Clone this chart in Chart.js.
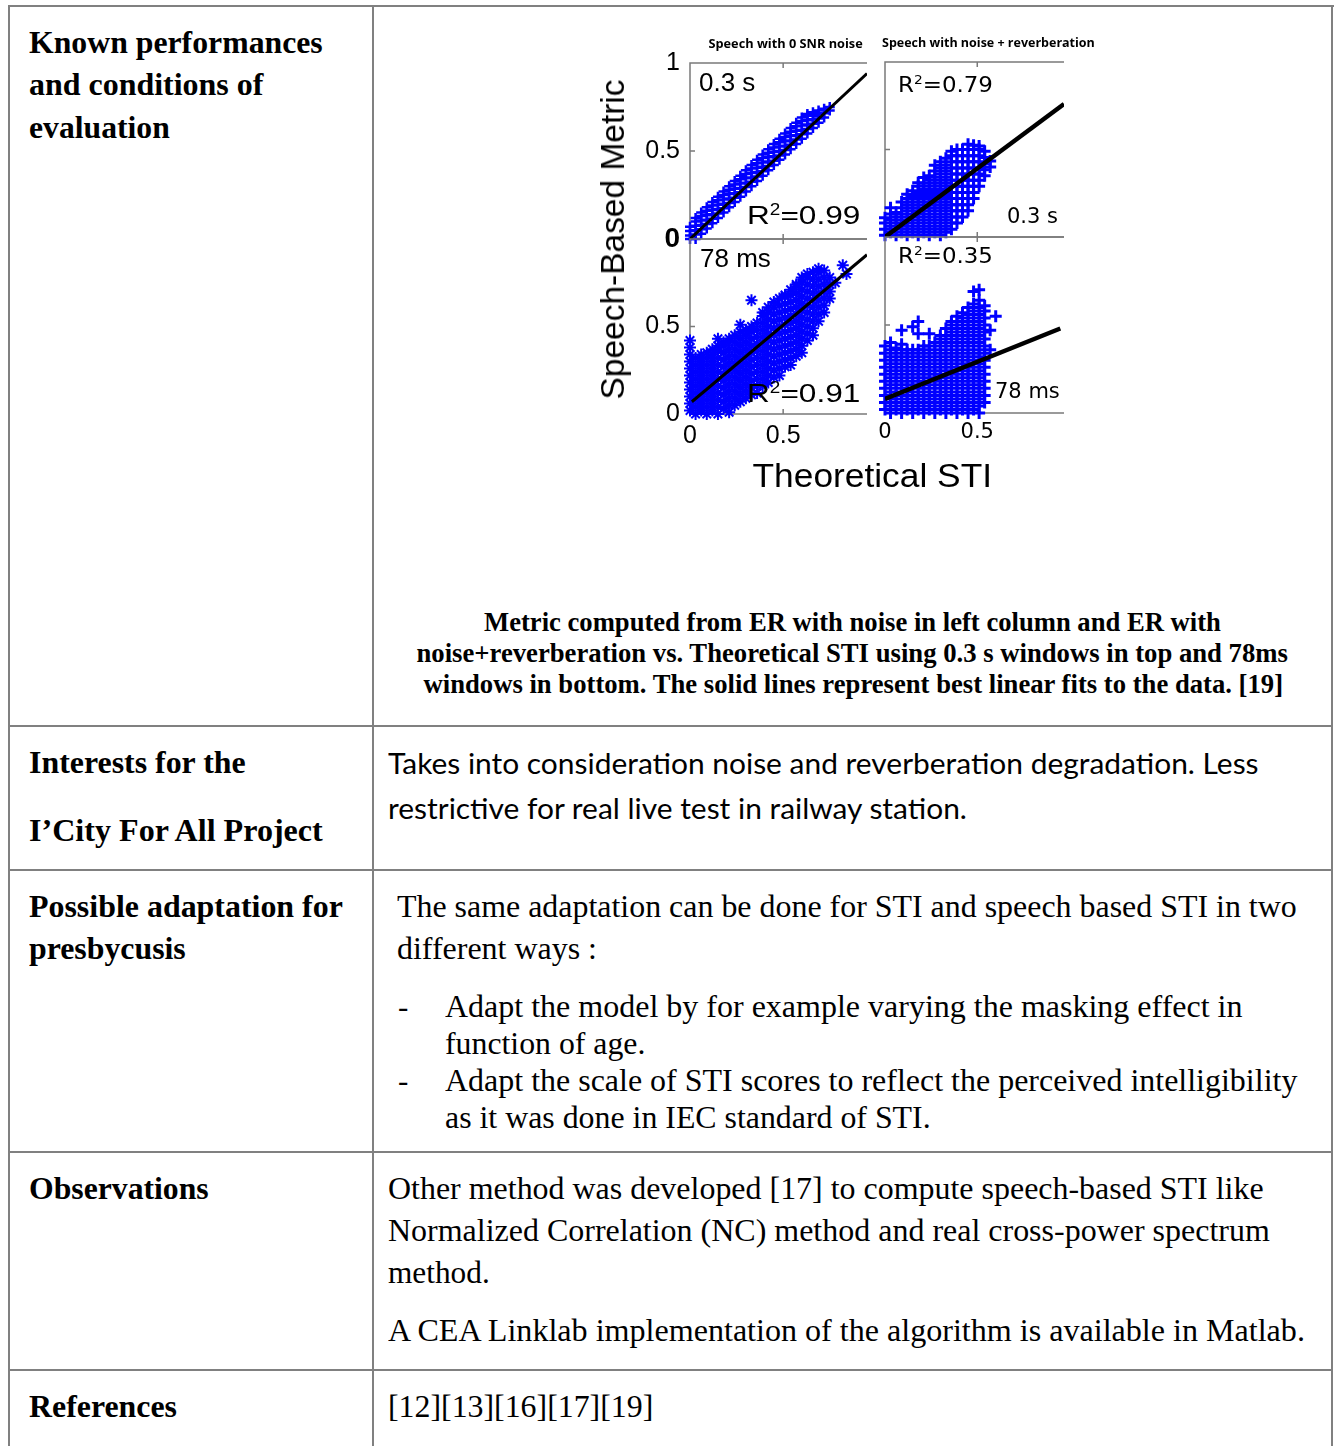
<!DOCTYPE html>
<html>
<head>
<meta charset="utf-8">
<script src="https://cdn.jsdelivr.net/npm/chart.js@4.4.1/dist/chart.umd.min.js"></script>
<style>
  html, body { margin: 0; padding: 0; background: #fff; }
  #page { position: relative; width: 1334px; height: 1446px; overflow: hidden; background: #fff; }
  .rule { position: absolute; background: #808080; }
  .t { position: absolute; white-space: nowrap; color: #000; }
  .t sup { font-size: 0.6em; vertical-align: 0; position: relative; top: -0.6em; line-height: 0; }
  .rot { position: absolute; width: 0; height: 0; transform-origin: 0 0; transform: rotate(-90deg); }
  canvas { position: absolute; }
</style>
</head>
<body>
<div id="page"></div>
<script>
// ---------- scatter clouds: [x, [y values at that x]] ----------
// Left column: ER with noise; right column: ER with noise + reverberation
// Top row: 0.3 s windows; bottom row: 78 ms windows
const tlCols = [
  [0.00,[0.00,0.02,0.045,0.07]],
  [0.03,[0.00,0.025,0.05,0.075,0.10,0.12]],
  [0.06,[0.03,0.055,0.08,0.105,0.13,0.15]],
  [0.09,[0.06,0.085,0.11,0.135,0.16,0.18]],
  [0.12,[0.09,0.115,0.14,0.165,0.19,0.21]],
  [0.15,[0.12,0.145,0.17,0.195,0.22,0.24]],
  [0.18,[0.15,0.175,0.20,0.225,0.25,0.27]],
  [0.21,[0.18,0.205,0.23,0.255,0.28,0.30]],
  [0.24,[0.21,0.235,0.26,0.285,0.31,0.33]],
  [0.27,[0.24,0.265,0.29,0.315,0.34,0.36]],
  [0.30,[0.27,0.295,0.32,0.345,0.37,0.39]],
  [0.33,[0.30,0.325,0.35,0.375,0.40,0.42]],
  [0.36,[0.33,0.355,0.38,0.405,0.43,0.45]],
  [0.39,[0.36,0.385,0.41,0.435,0.46,0.48]],
  [0.42,[0.39,0.415,0.44,0.465,0.49,0.51]],
  [0.45,[0.42,0.445,0.47,0.495,0.52,0.54]],
  [0.48,[0.45,0.475,0.50,0.525,0.55,0.57]],
  [0.51,[0.48,0.505,0.53,0.555,0.58,0.60]],
  [0.54,[0.51,0.535,0.56,0.585,0.61,0.63]],
  [0.57,[0.54,0.565,0.59,0.615,0.64,0.66]],
  [0.60,[0.57,0.595,0.62,0.645,0.67,0.69]],
  [0.63,[0.60,0.625,0.65,0.675,0.70,0.71]],
  [0.66,[0.63,0.655,0.68,0.70,0.72]],
  [0.69,[0.66,0.685,0.71,0.73]],
  [0.72,[0.69,0.715,0.74]],
  [0.75,[0.73,0.75]]
];

const trCols = [
  [0.00,[0.01,0.045,0.08,0.11]],
  [0.03,[0.027,0.062,0.097,0.132,0.167]],
  [0.06,[0.01,0.045,0.08,0.115,0.14]],
  [0.09,[0.027,0.062,0.097,0.132,0.167,0.20]],
  [0.12,[0.01,0.045,0.08,0.115,0.15,0.185,0.22,0.245]],
  [0.15,[0.027,0.062,0.097,0.132,0.167,0.202,0.237,0.265]],
  [0.18,[0.01,0.045,0.08,0.115,0.15,0.185,0.22,0.255,0.29,0.31]],
  [0.21,[0.027,0.062,0.097,0.132,0.167,0.202,0.237,0.272,0.307,0.34]],
  [0.24,[0.01,0.045,0.08,0.115,0.15,0.185,0.22,0.255,0.29,0.325,0.35]],
  [0.27,[0.027,0.062,0.097,0.132,0.167,0.202,0.237,0.272,0.307,0.342,0.377,0.41]],
  [0.30,[0.01,0.045,0.08,0.115,0.15,0.185,0.22,0.255,0.29,0.325,0.36,0.395,0.43]],
  [0.33,[0.027,0.062,0.097,0.132,0.167,0.202,0.237,0.272,0.307,0.342,0.377,0.412,0.45]],
  [0.36,[0.045,0.08,0.115,0.15,0.185,0.22,0.255,0.29,0.325,0.36,0.395,0.43,0.465,0.49]],
  [0.39,[0.08,0.115,0.15,0.185,0.22,0.255,0.29,0.325,0.36,0.395,0.43,0.465,0.50]],
  [0.42,[0.115,0.15,0.185,0.22,0.255,0.29,0.325,0.36,0.395,0.43,0.465,0.50]],
  [0.45,[0.15,0.185,0.22,0.255,0.29,0.325,0.36,0.395,0.43,0.465,0.50,0.53]],
  [0.48,[0.22,0.255,0.29,0.325,0.36,0.395,0.43,0.465,0.50,0.525]],
  [0.51,[0.29,0.325,0.36,0.395,0.43,0.465,0.50,0.52]],
  [0.54,[0.35,0.385,0.42,0.455,0.49]],
  [0.57,[0.40,0.435]]
];

const blCols = [
  [0.00,[0.02,0.06,0.10,0.14,0.18,0.22,0.26,0.30,0.34,0.38,0.42]],
  [0.03,[0.00,0.04,0.08,0.12,0.16,0.20,0.24,0.28,0.32]],
  [0.06,[0.02,0.06,0.10,0.14,0.18,0.22,0.26,0.30,0.34]],
  [0.09,[0.00,0.04,0.08,0.12,0.16,0.20,0.24,0.28,0.32,0.35]],
  [0.12,[0.02,0.06,0.10,0.14,0.18,0.22,0.26,0.30,0.34,0.37]],
  [0.15,[0.00,0.04,0.08,0.12,0.16,0.20,0.24,0.28,0.32,0.36,0.39,0.43]],
  [0.18,[0.03,0.07,0.11,0.15,0.19,0.23,0.27,0.31,0.35,0.39,0.41]],
  [0.21,[0.01,0.05,0.09,0.13,0.17,0.21,0.25,0.29,0.33,0.37,0.41,0.43]],
  [0.24,[0.05,0.09,0.13,0.17,0.21,0.25,0.29,0.33,0.37,0.41,0.45]],
  [0.27,[0.07,0.11,0.15,0.19,0.23,0.27,0.31,0.35,0.39,0.43,0.47,0.51]],
  [0.30,[0.09,0.13,0.17,0.21,0.25,0.29,0.33,0.37,0.41,0.45,0.48]],
  [0.33,[0.11,0.15,0.19,0.23,0.27,0.31,0.35,0.39,0.43,0.47,0.50,0.65]],
  [0.36,[0.12,0.16,0.20,0.24,0.28,0.32,0.36,0.40,0.44,0.48,0.52]],
  [0.39,[0.16,0.20,0.24,0.28,0.32,0.36,0.40,0.44,0.48,0.52,0.56,0.58]],
  [0.42,[0.18,0.22,0.26,0.30,0.34,0.38,0.42,0.46,0.50,0.54,0.58,0.61]],
  [0.45,[0.21,0.25,0.29,0.33,0.37,0.41,0.45,0.49,0.53,0.57,0.61,0.64]],
  [0.48,[0.22,0.26,0.30,0.34,0.38,0.42,0.46,0.50,0.54,0.58,0.62,0.66]],
  [0.51,[0.27,0.31,0.35,0.39,0.43,0.47,0.51,0.55,0.59,0.63,0.67,0.68]],
  [0.54,[0.28,0.32,0.36,0.40,0.44,0.48,0.52,0.56,0.60,0.64,0.68,0.71]],
  [0.57,[0.33,0.37,0.41,0.45,0.49,0.53,0.57,0.61,0.65,0.69,0.73,0.74]],
  [0.60,[0.35,0.39,0.43,0.47,0.51,0.55,0.59,0.63,0.67,0.71,0.75,0.78]],
  [0.63,[0.42,0.46,0.50,0.54,0.58,0.62,0.66,0.70,0.74,0.78,0.80]],
  [0.66,[0.45,0.49,0.53,0.57,0.61,0.65,0.69,0.73,0.77,0.81]],
  [0.69,[0.53,0.57,0.61,0.65,0.69,0.73,0.77,0.81,0.83]],
  [0.72,[0.58,0.62,0.66,0.70,0.74,0.78,0.82]],
  [0.75,[0.66,0.70,0.74,0.78]],
  [0.78,[0.75]],
  [0.82,[0.85]],
  [0.84,[0.80]]
];

const brCols = [
  [0.00,[0.02,0.06,0.10,0.14,0.18,0.22,0.26,0.30,0.34,0.38]],
  [0.03,[0.00,0.04,0.08,0.12,0.16,0.20,0.24,0.28,0.32,0.36,0.40]],
  [0.06,[0.02,0.06,0.10,0.14,0.18,0.22,0.26,0.30,0.34,0.37]],
  [0.09,[0.00,0.04,0.08,0.12,0.16,0.20,0.24,0.28,0.32,0.36,0.39,0.47]],
  [0.12,[0.02,0.06,0.10,0.14,0.18,0.22,0.26,0.30,0.34,0.36]],
  [0.15,[0.00,0.04,0.08,0.12,0.16,0.20,0.24,0.28,0.32,0.36,0.49]],
  [0.18,[0.02,0.06,0.10,0.14,0.18,0.22,0.26,0.30,0.34,0.36,0.45,0.52]],
  [0.21,[0.00,0.04,0.08,0.12,0.16,0.20,0.24,0.28,0.32,0.36,0.38]],
  [0.24,[0.02,0.06,0.10,0.14,0.18,0.22,0.26,0.30,0.34,0.38,0.45]],
  [0.27,[0.00,0.04,0.08,0.12,0.16,0.20,0.24,0.28,0.32,0.36,0.40]],
  [0.30,[0.02,0.06,0.10,0.14,0.18,0.22,0.26,0.30,0.34,0.38,0.42,0.44]],
  [0.33,[0.00,0.04,0.08,0.12,0.16,0.20,0.24,0.28,0.32,0.36,0.40,0.44,0.48]],
  [0.36,[0.02,0.06,0.10,0.14,0.18,0.22,0.26,0.30,0.34,0.38,0.42,0.46,0.50,0.52]],
  [0.39,[0.00,0.04,0.08,0.12,0.16,0.20,0.24,0.28,0.32,0.36,0.40,0.44,0.48,0.52,0.55]],
  [0.42,[0.02,0.06,0.10,0.14,0.18,0.22,0.26,0.30,0.34,0.38,0.42,0.46,0.50,0.54,0.57]],
  [0.45,[0.00,0.04,0.08,0.12,0.16,0.20,0.24,0.28,0.32,0.36,0.40,0.44,0.48,0.52,0.56,0.60]],
  [0.48,[0.02,0.06,0.10,0.14,0.18,0.22,0.26,0.30,0.34,0.38,0.42,0.46,0.50,0.54,0.58,0.62,0.69]],
  [0.51,[0.00,0.04,0.08,0.12,0.16,0.20,0.24,0.28,0.32,0.36,0.40,0.44,0.48,0.52,0.56,0.60,0.64,0.70]],
  [0.54,[0.06,0.10,0.14,0.18,0.22,0.26,0.30,0.34,0.38,0.42,0.46,0.50,0.54,0.58,0.61]],
  [0.57,[0.36,0.47]],
  [0.60,[0.55]]
];

// best linear fits, as end points [x, y]
const fitTL = [[0.00,0.00],[0.95,0.94]];
const fitTR = [[0.00,0.00],[0.97,0.76]];
const fitBL = [[0.01,0.07],[0.95,0.91]];
const fitBR = [[0.00,0.08],[0.95,0.48]];

// tick labels shown on each panel
const tlYTicks = {0:'0', 0.5:'0.5', 1:'1'};
const blYTicks = {0:'0', 0.5:'0.5'};
const bottomXTicks = {0:'0', 0.5:'0.5'};

const page = document.getElementById('page');

// ---------- table rules ----------
function rule(x, y, w, h) {
  const d = document.createElement('div');
  d.className = 'rule';
  Object.assign(d.style, {left: x + 'px', top: y + 'px', width: w + 'px', height: h + 'px'});
  page.appendChild(d);
}
rule(8, 5, 1326, 2);
rule(8, 5, 2, 1441);
rule(372, 5, 2, 1441);
rule(1331, 5, 2, 1441);
[725, 869, 1151, 1369].forEach(y => rule(8, y, 1325, 2));

// ---------- text placement ----------
const mctx = document.createElement('canvas').getContext('2d');
function metrics(font) {
  mctx.font = font;
  const m = mctx.measureText('H');
  return {asc: m.fontBoundingBoxAscent, desc: m.fontBoundingBoxDescent, cap: m.actualBoundingBoxAscent};
}
// o: x (left) or xc (centre), yc (cap centre), w (target width), family, size, weight, rot
function put(html, o) {
  const weight = o.weight || 'normal';
  const el = document.createElement('div');
  el.className = 't';
  el.innerHTML = html;
  el.style.fontFamily = o.family;
  el.style.fontSize = o.size + 'px';
  el.style.fontWeight = weight;
  el.style.lineHeight = o.size + 'px';
  let host = page;
  if (o.rot) {
    host = document.createElement('div');
    host.className = 'rot';
    host.style.left = o.xc + 'px';
    host.style.top = o.yc + 'px';
    page.appendChild(host);
  }
  host.appendChild(el);
  const fm = metrics(`${weight} ${o.size}px ${o.family}`);
  const base = (o.size - (fm.asc + fm.desc)) / 2 + fm.asc;
  const nat = el.offsetWidth;
  const k = o.w ? o.w / nat : 1;
  let left, top;
  if (o.rot) {
    left = -nat / 2;
    top = fm.cap / 2 - base;
  } else {
    left = (o.x !== undefined ? o.x : o.xc - nat / 2);
    top = o.yc + fm.cap / 2 - base;
  }
  el.style.left = left + 'px';
  el.style.top = top + 'px';
  el.style.transformOrigin = (o.x !== undefined) ? 'left center' : 'center center';
  el.style.transform = `scaleX(${k})`;
  return el;
}

const SERIF = '"Liberation Serif", "Times New Roman", serif';
const SANS = 'Lato, "Open Sans", sans-serif';
const ARIAL = '"Liberation Sans", Arial, sans-serif';
const VERD = '"DejaVu Sans", Verdana, sans-serif';
const TITLE = '"Open Sans", sans-serif';

// left column headings
const H = {family: SERIF, size: 31, weight: 'bold'};
put('Known performances', {...H, x: 29, yc: 42, w: 294});
put('and conditions of', {...H, x: 29, yc: 84, w: 234});
put('evaluation', {...H, x: 29, yc: 127, w: 141});
put('Interests for the', {...H, x: 29, yc: 762, w: 217});
put('I’City For All Project', {...H, x: 29, yc: 830, w: 294});
put('Possible adaptation for', {...H, x: 29, yc: 906, w: 314});
put('presbycusis', {...H, x: 29, yc: 948, w: 157});
put('Observations', {...H, x: 29, yc: 1188, w: 180});
put('References', {...H, x: 29, yc: 1406, w: 148});

// figure caption
const C = {family: SERIF, size: 28, weight: 'bold'};
put('Metric computed from ER with noise in left column and ER with', {...C, xc: 852, yc: 622, w: 737});
put('noise+reverberation vs. Theoretical STI using 0.3 s windows in top and 78ms', {...C, xc: 852, yc: 653, w: 871});
put('windows in bottom. The solid lines represent best linear fits to the data. [19]', {...C, xc: 853, yc: 684, w: 860});

// right column body text
const S = {family: SANS, size: 28};
put('Takes into consideration noise and reverberation degradation. Less', {...S, x: 388, yc: 763, w: 871});
put('restrictive for real live test in railway station.', {...S, x: 388, yc: 808, w: 579});

const B = {family: SERIF, size: 31};
put('The same adaptation can be done for STI and speech based STI in two', {...B, x: 397, yc: 906, w: 900});
put('different ways :', {...B, x: 397, yc: 948, w: 200});
put('-', {...B, x: 398, yc: 1006});
put('Adapt the model by for example varying the masking effect in', {...B, x: 445, yc: 1006, w: 797});
put('function of age.', {...B, x: 445, yc: 1043, w: 200});
put('-', {...B, x: 398, yc: 1080});
put('Adapt the scale of STI scores to reflect the perceived intelligibility', {...B, x: 445, yc: 1080, w: 852});
put('as it was done in IEC standard of STI.', {...B, x: 445, yc: 1117, w: 486});
put('Other method was developed [17] to compute speech-based STI like', {...B, x: 388, yc: 1188, w: 876});
put('Normalized Correlation (NC) method and real cross-power spectrum', {...B, x: 388, yc: 1230, w: 882});
put('method.', {...B, x: 388, yc: 1272, w: 102});
put('A CEA Linklab implementation of the algorithm is available in Matlab.', {...B, x: 388, yc: 1330, w: 917});
put('[12][13][16][17][19]', {...B, x: 388, yc: 1406, w: 265});

// ---------- the four scatter panels ----------
const PAD = {l: 70, r: 14, t: 36, b: 44};

const framePlugin = {
  id: 'frame',
  beforeDatasetsDraw(chart) {
    const {ctx, chartArea: a, scales: {x, y}} = chart;
    ctx.save();
    ctx.strokeStyle = '#7a7a7a';
    ctx.lineWidth = 1.5;
    ctx.beginPath();
    ctx.moveTo(a.right, a.top); ctx.lineTo(a.left, a.top);
    ctx.lineTo(a.left, a.bottom); ctx.lineTo(a.right, a.bottom);
    const ty = y.getPixelForValue(0.5);
    ctx.moveTo(a.left, ty); ctx.lineTo(a.left + 5, ty);
    const tx = x.getPixelForValue(0.5);
    ctx.moveTo(tx, a.bottom); ctx.lineTo(tx, a.bottom - 5);
    ctx.moveTo(tx, a.top); ctx.lineTo(tx, a.top + 5);
    ctx.stroke();
    ctx.restore();
  }
};

function toPoints(cols) {
  const pts = [];
  cols.forEach(([x, ys]) => ys.forEach(y => pts.push({x, y})));
  return pts;
}
function pick(map, v) {
  for (const k in map) if (Math.abs(+k - v) < 1e-6) return map[k];
  return '';
}

function panel(cfg) {
  const a = cfg.area;
  const W = a.r - a.l + PAD.l + PAD.r, Hh = a.b - a.t + PAD.t + PAD.b;
  const cv = document.createElement('canvas');
  cv.width = W; cv.height = Hh;
  Object.assign(cv.style, {left: (a.l - PAD.l) + 'px', top: (a.t - PAD.t) + 'px', width: W + 'px', height: Hh + 'px'});
  page.appendChild(cv);
  new Chart(cv, {
    type: 'scatter',
    data: {
      datasets: [
        {type: 'line', data: cfg.fit.map(([x, y]) => ({x, y})), showLine: true,
         borderColor: '#000', borderWidth: cfg.lw, pointRadius: 0, order: 0},
        {data: toPoints(cfg.cols), pointStyle: cfg.marker, pointRadius: cfg.r,
         pointBorderWidth: cfg.bw, pointBorderColor: '#0000ff', pointBackgroundColor: '#0000ff',
         borderColor: '#0000ff', backgroundColor: '#0000ff', order: 1, clip: false}
      ]
    },
    options: {
      responsive: false, animation: false, devicePixelRatio: 1, events: [],
      layout: {autoPadding: false, padding: {left: 0, right: PAD.r, top: PAD.t, bottom: 0}},
      plugins: {legend: {display: false}, tooltip: {enabled: false}},
      scales: {
        x: {
          type: 'linear', min: 0, max: cfg.xMax,
          afterFit(s) { s.height = PAD.b; },
          grid: {display: false, drawTicks: false}, border: {display: false},
          ticks: {
            display: !!cfg.xTicks, stepSize: 0.5, autoSkip: false, maxRotation: 0,
            padding: cfg.xPad, color: '#000',
            font: {family: cfg.font, size: cfg.tickSize},
            callback: v => cfg.xTicks ? pick(cfg.xTicks, v) : ''
          }
        },
        y: {
          type: 'linear', min: 0, max: 1,
          afterFit(s) { s.width = PAD.l; },
          grid: {display: false, drawTicks: false}, border: {display: false},
          ticks: {
            display: !!cfg.yTicks, stepSize: 0.5, autoSkip: false, padding: 10, color: '#000',
            font: c => (cfg.boldZero && c.tick && c.tick.value === 0)
              ? {family: cfg.font, size: cfg.tickSize + 3, weight: 'bold'}
              : {family: cfg.font, size: cfg.tickSize},
            callback: v => cfg.yTicks ? pick(cfg.yTicks, v) : ''
          }
        }
      }
    },
    plugins: [framePlugin]
  });
}

panel({area: {l: 690, t: 63, r: 867, b: 239}, xMax: 0.95, cols: tlCols, fit: fitTL,
       marker: 'cross', r: 5, bw: 2.5, lw: 3, font: 'Liberation Sans', tickSize: 25,
       yTicks: tlYTicks, boldZero: true});
panel({area: {l: 885, t: 62, r: 1064, b: 237}, xMax: 0.97, cols: trCols, fit: fitTR,
       marker: 'cross', r: 6, bw: 3, lw: 4.5, font: 'DejaVu Sans', tickSize: 21});
panel({area: {l: 690, t: 239, r: 867, b: 414}, xMax: 0.95, cols: blCols, fit: fitBL,
       marker: 'star', r: 6, bw: 2, lw: 3, font: 'Liberation Sans', tickSize: 25,
       yTicks: blYTicks, xTicks: bottomXTicks, xPad: 7});
panel({area: {l: 885, t: 237, r: 1064, b: 413}, xMax: 0.97, cols: brCols, fit: fitBR,
       marker: 'cross', r: 6, bw: 3, lw: 4.5, font: 'DejaVu Sans', tickSize: 21,
       xTicks: bottomXTicks, xPad: 7});

// panel titles and annotations
put('Speech with 0 SNR noise', {family: TITLE, size: 12.5, weight: 'bold', xc: 785, yc: 44, w: 154});
put('Speech with noise + reverberation', {family: TITLE, size: 12.5, weight: 'bold', xc: 988.5, yc: 43, w: 213});

const A = {family: ARIAL, size: 26};
put('0.3 s', {...A, x: 699, yc: 82});
put('R<sup>2</sup>=0.99', {...A, x: 747, yc: 215, w: 113});
put('78 ms', {...A, x: 700, yc: 258});
put('R<sup>2</sup>=0.91', {...A, x: 747, yc: 393, w: 113});

const V = {family: VERD, size: 21};
put('R<sup>2</sup>=0.79', {...V, x: 898, yc: 84, w: 95});
put('0.3 s', {...V, x: 1007, yc: 215});
put('R<sup>2</sup>=0.35', {...V, x: 898, yc: 255, w: 95});
put('78 ms', {...V, x: 995, yc: 390});

// axis titles
put('Theoretical STI', {family: ARIAL, size: 34, xc: 872, yc: 475, w: 240});
put('Speech-Based Metric', {family: ARIAL, size: 34, xc: 612, yc: 240, w: 320, rot: true});
</script>
</body>
</html>
